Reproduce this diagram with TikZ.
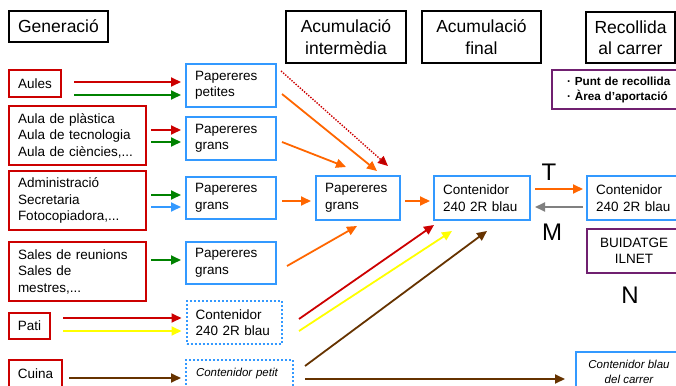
\documentclass[tikz,border=0pt]{standalone}
\usepackage{fontspec}
\setmainfont{Liberation Sans}
\usetikzlibrary{arrows.meta}
\definecolor{redc}{RGB}{204,0,0}
\definecolor{darkredc}{RGB}{180,0,0}
\definecolor{bluec}{RGB}{51,153,255}
\definecolor{purplec}{RGB}{112,32,112}
\definecolor{greenc}{RGB}{0,130,0}
\definecolor{orangec}{RGB}{255,102,0}
\definecolor{yellowc}{RGB}{255,255,0}
\definecolor{brownc}{RGB}{102,51,0}
\definecolor{grayc}{RGB}{128,128,128}
\begin{document}
\begin{tikzpicture}[x=1pt,y=-1pt,
 every node/.style={inner sep=0pt, outer sep=0pt},
 base/.style={draw, line width=2.7pt, font=\fontsize{13.5}{16.5}\selectfont, align=left},
 src/.style={base, draw=redc},
 bin/.style={base, draw=bluec},
 dbin/.style={base, draw=bluec, line width=2pt, dash pattern=on 2pt off 2pt},
 ttl/.style={draw, line width=2.8pt, font=\fontsize{17.5}{21.5}\selectfont, align=center},
 pur/.style={draw=purplec, line width=2.7pt},
 arr/.style={-{Triangle[length=10pt,width=9pt]}, line width=1.8pt},
 hin/.style={shorten <=#1, shorten >=5pt},
 big/.style={font=\fontsize{24}{28}\selectfont}]
\useasboundingbox (0,0) rectangle (676,385);
\clip (0,0) rectangle (676,385);

% titles
\node[ttl, minimum width=99, minimum height=31] (gen) at (58.5,26.5) {Generació};
\node[ttl, minimum width=120, minimum height=52] (acint) at (346,37) {Acumulació\\intermèdia};
\node[ttl, minimum width=119, minimum height=52] (acfin) at (481.5,37) {Acumulació\\final};
\node[ttl, minimum width=89, minimum height=51] (recol) at (630.5,37.5) {Recollida\\al carrer};

\node[pur, minimum height=39, text width=110, inner xsep=15, align=left,
      font=\bfseries\fontsize{11.7}{15}\selectfont] (punt) at (622,89.5)
      {· Punt de recollida\\· Àrea d’aportació};

% sources
\node[src, minimum width=52, minimum height=27] (aules) at (35,83.5) {Aules};
\node[src, minimum height=59, text width=119, inner xsep=9] (aula) at (77.5,135.5) {Aula de plàstica\\Aula de tecnologia\\Aula de ciències,...};
\node[src, minimum height=59, text width=119, inner xsep=9] (admin) at (77.5,200.5) {Administració\\Secretaria\\Fotocopiadora,...};
\node[src, minimum height=59, text width=119, inner xsep=9] (sales) at (77.5,271.5) {Sales de reunions\\Sales de\\mestres,...};
\node[src, minimum width=41, minimum height=26] (pati) at (29.5,326) {Pati};
\node[src, minimum width=53, minimum height=27] (cuina) at (35.5,373.5) {Cuina};

% bins
\node[bin, minimum height=43, text width=72, inner xsep=9] (pp) at (231,85.5) {Papereres\\petites};
\node[bin, minimum height=43, text width=72, inner xsep=9] (pg1) at (231,138.5) {Papereres\\grans};
\node[bin, minimum height=42, text width=72, inner xsep=9] (pg2) at (231,198) {Papereres\\grans};
\node[bin, minimum height=42, text width=72, inner xsep=9] (pg3) at (231,263) {Papereres\\grans};
\node[dbin, minimum height=43, text width=77, inner xsep=9] (c240d) at (234,322.5) {Contenidor\\240 2R blau};
\node[dbin, minimum height=27, text width=87, inner xsep=10, font=\itshape\fontsize{11.5}{14}\selectfont] (cpetit) at (239.5,373.5) {Contenidor petit};
\node[bin, minimum height=44, text width=66, inner xsep=9] (pgm) at (358,198) {Papereres\\grans};
\node[bin, minimum height=44, text width=78, inner xsep=9] (cfin) at (482,198) {Contenidor\\240 2R blau};
\node[bin, minimum height=44, text width=76, inner xsep=9] (cright) at (634,198) {Contenidor\\240 2R blau};
\node[pur, minimum width=94, minimum height=44, align=center, font=\fontsize{13.5}{16.5}\selectfont] (buid) at (634,251) {BUIDATGE\\ILNET};
\node[bin, minimum width=106, minimum height=40, align=center, font=\itshape\fontsize{11.5}{15}\selectfont] (carrer) at (629,372) {Contenidor blau\\del carrer};

% labels
\node[big] (T) at (549,172) {T};
\node[big] (M) at (552,232) {M};
\node[big] (N) at (630,295) {N};

% horizontal arrows from sources
\draw[arr,redc,hin=13pt] (aules.east |- 0,82) -- (pp.west |- 0,82);
\draw[arr,greenc,hin=13pt] (aules.east |- 0,95) -- (pp.west |- 0,95);
\draw[arr,redc,hin=5pt] (aula.east |- 0,130) -- (pg1.west |- 0,130);
\draw[arr,greenc,hin=5pt] (aula.east |- 0,142) -- (pg1.west |- 0,142);
\draw[arr,greenc,hin=5pt] (admin.east |- 0,195) -- (pg2.west |- 0,195);
\draw[arr,bluec,hin=5pt] (admin.east |- 0,207) -- (pg2.west |- 0,207);
\draw[arr,greenc,hin=5pt] (sales.east |- 0,260) -- (pg3.west |- 0,260);
\draw[arr,redc,hin=13pt] (pati.east |- 0,318) -- (c240d.west |- 0,318);
\draw[arr,yellowc,hin=13pt] (pati.east |- 0,331) -- (c240d.west |- 0,331);
\draw[arr,brownc,hin=7pt] (cuina.east |- 0,378) -- (cpetit.west |- 0,378);

% diagonal connectors
\coordinate (ppA) at (281,71);   \coordinate (pgmA) at (388,166);
\coordinate (ppB) at (282,94);   \coordinate (pgmB) at (377,171);
\coordinate (pg1A) at (282,142); \coordinate (pgmC) at (346,167);
\coordinate (pg3A) at (287,266); \coordinate (pgmD) at (357,226);
\coordinate (c240A) at (299,319); \coordinate (cfinA) at (434,225);
\coordinate (c240B) at (299,331); \coordinate (cfinB) at (452,231);
\coordinate (cpetA) at (305,366); \coordinate (cfinC) at (487,231);

\draw[-{Triangle[length=10pt,width=9pt,fill=darkredc]}, line width=1.4pt, redc, dash pattern=on 1.4pt off 1.4pt] (ppA) -- (pgmA);
\draw[arr,orangec] (ppB) -- (pgmB);
\draw[arr,orangec] (pg1A) -- (pgmC);
\draw[arr,orangec,shorten <=6pt,shorten >=5pt] (pg2.east |- 0,201) -- (pgm.west |- 0,201);
\draw[arr,orangec] (pg3A) -- (pgmD);
\draw[arr,orangec,shorten <=5pt,shorten >=4pt] (pgm.east |- 0,201) -- (cfin.west |- 0,201);
\draw[arr,redc] (c240A) -- (cfinA);
\draw[arr,yellowc] (c240B) -- (cfinB);
\draw[arr,brownc] (cpetA) -- (cfinC);
\draw[arr,brownc,shorten <=12pt,shorten >=11pt] (cpetit.east |- 0,379) -- (carrer.west |- 0,379);

% T / M
\draw[arr,orangec,shorten <=5pt,shorten >=4pt] (cfin.east |- 0,189) -- (cright.west |- 0,189);
\draw[arr,grayc,shorten <=4pt,shorten >=5pt] (cright.west |- 0,207) -- (cfin.east |- 0,207);
\end{tikzpicture}
\end{document}
